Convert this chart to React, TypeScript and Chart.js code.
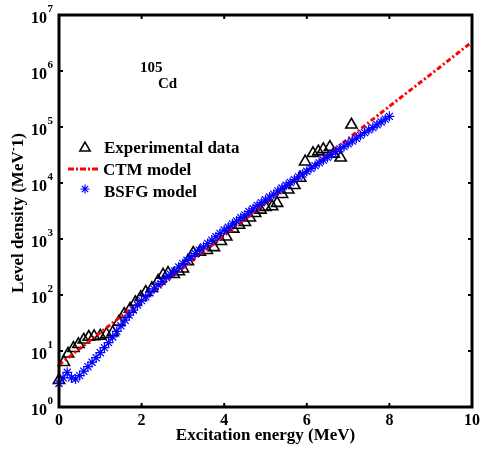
import React, { useEffect, useRef } from "react";
import { Chart, registerables } from "chart.js";
Chart.register(...registerables);

// ---- data ----
const xTickValues = [0, 2, 4, 6, 8, 10];
const xTickLabels = ["0", "2", "4", "6", "8", "10"];
const yDecadeExponents = [0, 1, 2, 3, 4, 5, 6, 7];

const expEnergy = [0.0, 0.12, 0.22, 0.35, 0.47, 0.6, 0.72, 0.85, 1.0, 1.15, 1.3, 1.45, 1.58, 1.72, 1.85, 1.98, 2.1, 2.25, 2.4, 2.52, 2.64, 2.78, 2.9, 3.0, 3.12, 3.25, 3.41, 3.58, 3.75, 3.92, 4.05, 4.22, 4.36, 4.5, 4.62, 4.75, 4.88, 5.0, 5.16, 5.28, 5.4, 5.55, 5.7, 5.84, 5.96, 6.15, 6.28, 6.4, 6.56, 6.65, 6.82, 7.08];
const expLog10Density = [0.48, 0.8, 0.95, 1.05, 1.12, 1.2, 1.25, 1.26, 1.27, 1.3, 1.33, 1.52, 1.66, 1.75, 1.87, 1.96, 2.05, 2.12, 2.25, 2.36, 2.39, 2.37, 2.42, 2.47, 2.6, 2.75, 2.77, 2.8, 2.85, 2.96, 3.04, 3.18, 3.25, 3.3, 3.38, 3.46, 3.52, 3.57, 3.58, 3.64, 3.8, 3.88, 3.96, 4.09, 4.38, 4.53, 4.56, 4.6, 4.64, 4.52, 4.45, 5.04];

const ctmEnergy = [0, 1, 2, 3, 4, 5, 6, 7, 8, 9, 10];
const ctmLog10Density = [0.75, 1.33, 1.9, 2.48, 3.06, 3.64, 4.21, 4.79, 5.37, 5.94, 6.52];

const bsfgEnergy = [0.0, 0.1, 0.2, 0.3, 0.4, 0.5, 0.6, 0.7, 0.8, 0.9, 1.0, 1.1, 1.2, 1.3, 1.4, 1.5, 1.6, 1.7, 1.8, 1.9, 2.0, 2.1, 2.2, 2.3, 2.4, 2.5, 2.6, 2.7, 2.8, 2.9, 3.0, 3.1, 3.2, 3.3, 3.4, 3.5, 3.6, 3.7, 3.8, 3.9, 4.0, 4.1, 4.2, 4.3, 4.4, 4.5, 4.6, 4.7, 4.8, 4.9, 5.0, 5.1, 5.2, 5.3, 5.4, 5.5, 5.6, 5.7, 5.8, 5.9, 6.0, 6.1, 6.2, 6.3, 6.4, 6.5, 6.6, 6.7, 6.8, 6.9, 7.0, 7.1, 7.2, 7.3, 7.4, 7.5, 7.6, 7.7, 7.8, 7.9, 8.0];
const bsfgLog10Density = [0.42, 0.52, 0.62, 0.52, 0.5, 0.56, 0.64, 0.72, 0.8, 0.88, 0.97, 1.06, 1.15, 1.25, 1.35, 1.45, 1.55, 1.64, 1.73, 1.82, 1.9, 1.97, 2.04, 2.11, 2.18, 2.24, 2.31, 2.37, 2.43, 2.5, 2.56, 2.62, 2.68, 2.74, 2.8, 2.86, 2.92, 2.98, 3.04, 3.1, 3.16, 3.21, 3.27, 3.32, 3.38, 3.43, 3.49, 3.54, 3.6, 3.65, 3.7, 3.75, 3.8, 3.86, 3.91, 3.96, 4.01, 4.06, 4.11, 4.16, 4.21, 4.26, 4.31, 4.36, 4.41, 4.46, 4.51, 4.56, 4.61, 4.65, 4.7, 4.75, 4.8, 4.85, 4.9, 4.95, 4.99, 5.04, 5.09, 5.14, 5.19];

const legendLabels = ["Experimental data", "CTM model", "BSFG model"];
const nucleusMass = "105";
const nucleusSymbol = "Cd";
const xTitle = "Excitation energy (MeV)";
const yTitleMain = "Level density (MeV";
const yTitleSup = "-";
const yTitleEnd = "1)";

const FONT = '"Liberation Serif", "Times New Roman", serif';
const BLUE = "#0000ff";
const RED = "#ff0000";

function toPoints(xs: number[], logs: number[]) {
  return xs.map((x, i) => ({ x, y: Math.pow(10, logs[i]) }));
}

function drawTriangle(ctx: CanvasRenderingContext2D, x: number, y: number, r: number) {
  ctx.beginPath();
  let rad = 0;
  ctx.moveTo(x + Math.sin(rad) * r, y - Math.cos(rad) * r);
  rad += (2 * Math.PI) / 3;
  ctx.lineTo(x + Math.sin(rad) * r, y - Math.cos(rad) * r);
  rad += (2 * Math.PI) / 3;
  ctx.lineTo(x + Math.sin(rad) * r, y - Math.cos(rad) * r);
  ctx.closePath();
  ctx.stroke();
}

function drawStar(ctx: CanvasRenderingContext2D, x: number, y: number, r: number) {
  ctx.beginPath();
  ctx.moveTo(x - r, y); ctx.lineTo(x + r, y);
  ctx.moveTo(x, y - r); ctx.lineTo(x, y + r);
  const d = r * Math.SQRT1_2;
  ctx.moveTo(x - d, y - d); ctx.lineTo(x + d, y + d);
  ctx.moveTo(x - d, y + d); ctx.lineTo(x + d, y - d);
  ctx.stroke();
}

export default function App() {
  const ref = useRef<HTMLCanvasElement>(null);

  useEffect(() => {
    document.body.style.margin = "0";
    const canvas = ref.current!;

    const deco = {
      id: "deco",
      afterDatasetsDraw(chart: any) {
        const { ctx, chartArea: a, scales } = chart;
        const xs = scales.x;
        const ys = scales.y;
        ctx.save();
        ctx.strokeStyle = "#000";
        ctx.fillStyle = "#000";
        // ticks
        ctx.lineWidth = 2;
        ctx.setLineDash([]);
        const tl = 4;
        ctx.beginPath();
        xTickValues.forEach((v) => {
          const px = xs.getPixelForValue(v);
          ctx.moveTo(px, a.bottom); ctx.lineTo(px, a.bottom - tl);
          ctx.moveTo(px, a.top); ctx.lineTo(px, a.top + tl);
        });
        yDecadeExponents.forEach((e) => {
          const py = ys.getPixelForValue(Math.pow(10, e));
          ctx.moveTo(a.left, py); ctx.lineTo(a.left + tl, py);
          ctx.moveTo(a.right, py); ctx.lineTo(a.right - tl, py);
        });
        ctx.stroke();
        // box
        ctx.lineWidth = 3;
        ctx.strokeRect(a.left, a.top, a.right - a.left, a.bottom - a.top);

        // x tick labels
        ctx.font = `bold 16px ${FONT}`;
        ctx.textAlign = "center";
        ctx.textBaseline = "alphabetic";
        xTickValues.forEach((v, i) => {
          ctx.fillText(xTickLabels[i], xs.getPixelForValue(v), a.bottom + 18);
        });
        // y tick labels 10^n
        yDecadeExponents.forEach((e) => {
          const py = ys.getPixelForValue(Math.pow(10, e));
          ctx.font = `bold 16px ${FONT}`;
          ctx.textAlign = "right";
          ctx.fillText("10", 47, py + 8);
          ctx.font = `bold 11px ${FONT}`;
          ctx.textAlign = "left";
          ctx.fillText(String(e), 47.5, py - 3);
        });

        // x title
        ctx.font = `bold 17px ${FONT}`;
        ctx.textAlign = "center";
        ctx.fillText(xTitle, (a.left + a.right) / 2, 440);

        // y title (rotated)
        ctx.save();
        ctx.translate(23, (a.top + a.bottom) / 2 + 2);
        ctx.rotate(-Math.PI / 2);
        ctx.textAlign = "left";
        const big = `bold 17px ${FONT}`;
        const small = `bold 12px ${FONT}`;
        ctx.font = big;
        const w1 = ctx.measureText(yTitleMain).width;
        const w3 = ctx.measureText(yTitleEnd).width;
        ctx.font = small;
        const w2 = ctx.measureText(yTitleSup).width;
        const total = w1 + w2 + w3;
        let cx = -total / 2;
        ctx.font = big;
        ctx.fillText(yTitleMain, cx, 0);
        cx += w1;
        ctx.font = small;
        ctx.fillText(yTitleSup, cx, -6);
        cx += w2;
        ctx.font = big;
        ctx.fillText(yTitleEnd, cx, 0);
        ctx.restore();

        // nucleus annotation
        ctx.font = `bold 15px ${FONT}`;
        ctx.textAlign = "left";
        ctx.fillText(nucleusMass, 140, 72);
        ctx.fillText(nucleusSymbol, 158, 88);

        // legend
        ctx.font = `bold 17px ${FONT}`;
        ctx.fillText(legendLabels[0], 104, 153);
        ctx.fillText(legendLabels[1], 103, 175);
        ctx.fillText(legendLabels[2], 104, 197);
        ctx.lineWidth = 1.5;
        ctx.strokeStyle = "#000";
        drawTriangle(ctx, 85, 148, 6);
        ctx.strokeStyle = RED;
        ctx.lineWidth = 3;
        ctx.setLineDash([6, 2, 2, 2]);
        ctx.beginPath();
        ctx.moveTo(68, 169); ctx.lineTo(99, 169);
        ctx.stroke();
        ctx.setLineDash([]);
        ctx.strokeStyle = BLUE;
        ctx.lineWidth = 1.2;
        drawStar(ctx, 85, 189, 4.5);
        ctx.restore();
      },
    };

    const chart = new Chart(canvas, {
      type: "scatter",
      data: {
        datasets: [
          {
            label: legendLabels[0],
            data: toPoints(expEnergy, expLog10Density),
            pointStyle: "triangle",
            radius: 6.5,
            borderColor: "#000",
            backgroundColor: "rgba(0,0,0,0)",
            borderWidth: 1.6,
            showLine: false,
            clip: false as any,
            order: 3,
          },
          {
            label: legendLabels[1],
            data: toPoints(ctmEnergy, ctmLog10Density),
            showLine: true,
            borderColor: RED,
            borderWidth: 3,
            borderDash: [5, 2.5, 2, 2.5],
            pointRadius: 0,
            fill: false,
            clip: false as any,
            order: 2,
          },
          {
            label: legendLabels[2],
            data: toPoints(bsfgEnergy, bsfgLog10Density),
            pointStyle: "star",
            radius: 5,
            borderColor: BLUE,
            backgroundColor: BLUE,
            borderWidth: 1.2,
            showLine: false,
            clip: false as any,
            order: 1,
          },
        ],
      },
      options: {
        animation: false,
        responsive: false,
        devicePixelRatio: 1,
        layout: { padding: { top: 15, right: 9, left: 0, bottom: 0 } },
        plugins: { legend: { display: false }, tooltip: { enabled: false } },
        scales: {
          x: {
            type: "linear",
            min: 0,
            max: 10,
            grid: { display: false },
            border: { display: false },
            ticks: { display: false },
            afterFit: (s: any) => { s.height = 44; },
          },
          y: {
            type: "logarithmic",
            min: 1,
            max: 1e7,
            grid: { display: false },
            border: { display: false },
            ticks: { display: false },
            afterFit: (s: any) => { s.width = 59; },
          },
        },
      },
      plugins: [deco],
    });
    return () => chart.destroy();
  }, []);

  return <canvas ref={ref} width={481} height={451} style={{ display: "block" }} />;
}
